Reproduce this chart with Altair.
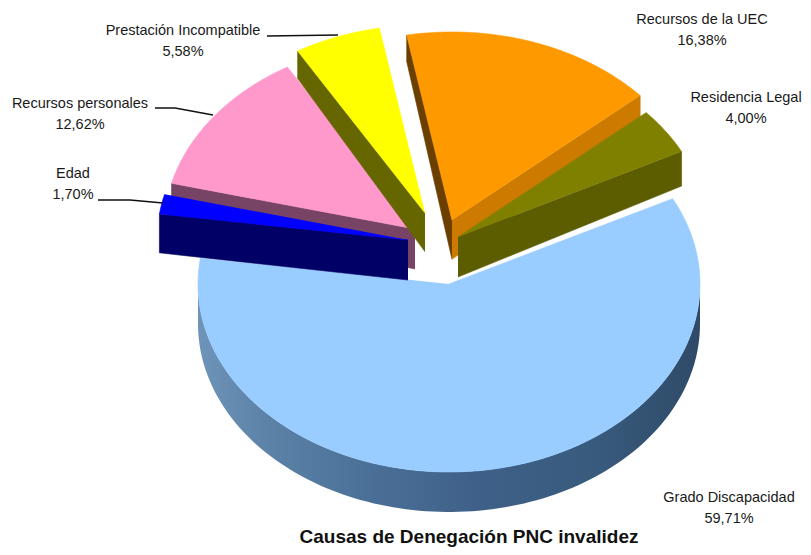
import numpy as np
import pandas as pd
import altair as alt

# Chart values
categories = ["Grado Discapacidad", "Edad", "Recursos personales",
              "Prestación Incompatible", "Recursos de la UEC", "Residencia Legal"]
shares = [59.71, 1.70, 12.62, 5.58, 16.38, 4.00]
share_labels = ["59,71%", "1,70%", "12,62%", "5,58%", "16,38%", "4,00%"]
chart_title = "Causas de Denegación PNC invalidez"

# Appearance
top_colors = ["#99ccff", "#0000ff", "#ff99cc", "#ffff00", "#ff9900", "#808000"]
apex = [(449, 284), (408, 240), (415, 229), (425, 213), (452, 220), (458, 237)]
label_x = [729, 73, 80, 183, 702, 746]
label_y = [498, 174, 104, 31, 20, 98]
RX, RY = 251, 188
START = 27.0


def X(v):
    return alt.X("x:Q", scale=alt.Scale(domain=[8, 803]), axis=None, title=None)


def Y(v):
    return alt.Y("y:Q", scale=alt.Scale(domain=[547, 8]), axis=None, title=None)


def poly(xs, ys, fill, stroke=None, sw=0.6):
    df = pd.DataFrame({"x": xs, "y": ys, "i": range(len(xs))})
    return alt.Chart(df).mark_line(
        fill=fill, stroke=stroke or (fill if isinstance(fill, str) else "#3f6189"),
        strokeWidth=sw, interpolate="linear"
    ).encode(x=X(0), y=Y(0), order="i:Q")


def thick(y):
    return min(40.0, 26 + 0.07 * (y - 30))


# slice boundary angles, clockwise from START
bounds = [START]
for s in shares:
    bounds.append(bounds[-1] - s * 3.6)


def rim(i, a):
    a = np.radians(a)
    return apex[i][0] + RX * np.cos(a), apex[i][1] - RY * np.sin(a)


def top_face(i):
    angs = np.linspace(bounds[i], bounds[i + 1], max(6, int(abs(shares[i]) * 6)))
    pts = [rim(i, a) for a in angs]
    xs = [apex[i][0]] + [p[0] for p in pts]
    ys = [apex[i][1]] + [p[1] for p in pts]
    return poly(xs, ys, top_colors[i])


def radial_wall(i, a, color):
    ex, ey = rim(i, a)
    ax, ay = apex[i]
    return poly([ax, ex, ex, ax],
                [ay, ey, ey + thick(ey), ay + thick(ay)], color)


# Outer wall of the large slice
angs = np.linspace(0, -180, 120)
wx = [rim(0, a)[0] for a in angs]
wy = [rim(0, a)[1] for a in angs]
grad = alt.Gradient(
    gradient="linear", x1=0, x2=1, y1=0, y2=0,
    stops=[alt.GradientStop(offset=0, color="#6f94ba"),
           alt.GradientStop(offset=0.12, color="#5f84aa"),
           alt.GradientStop(offset=0.35, color="#4a6f96"),
           alt.GradientStop(offset=0.55, color="#3f6189"),
           alt.GradientStop(offset=0.8, color="#385a7c"),
           alt.GradientStop(offset=1, color="#2f4a68")],
)
layers = [
    poly(wx + wx[::-1], wy + [v + 40 for v in wy[::-1]], grad, stroke="#4f7399", sw=0),
    top_face(0),
    # Recursos de la UEC
    radial_wall(4, bounds[4], "#6b3f00"),
    radial_wall(4, bounds[5], "#cc7a00"),
    top_face(4),
    # Residencia Legal
    radial_wall(5, bounds[6], "#5c5c00"),
    top_face(5),
    # Recursos personales
    radial_wall(2, bounds[2], "#774466"),
    top_face(2),
    # Prestación Incompatible
    radial_wall(3, bounds[3], "#666600"),
    top_face(3),
    # Edad
    radial_wall(1, bounds[1], "#000066"),
    top_face(1),
]

# Leader lines
leaders = [
    ([267, 338], [36, 35]),
    ([155, 175, 213], [108, 108, 115]),
    ([98, 130, 163], [200, 200, 203]),
]
for lx, ly in leaders:
    ldf = pd.DataFrame({"x": lx, "y": ly, "i": range(len(lx))})
    layers.append(alt.Chart(ldf).mark_line(color="#111111", strokeWidth=1.3).encode(
        x=X(0), y=Y(0), order="i:Q"))

FONT = "Liberation Sans"
labels = pd.DataFrame({
    "x": label_x * 2,
    "y": label_y + [v + 21 for v in label_y],
    "t": categories + share_labels,
})
layers.append(alt.Chart(labels).mark_text(
    font=FONT, fontSize=14.5, color="#1a1a1a", align="center", baseline="middle"
).encode(x=X(0), y=Y(0), text="t:N"))

tdf = pd.DataFrame({"x": [469], "y": [537], "t": [chart_title]})
layers.append(alt.Chart(tdf).mark_text(
    font=FONT, fontSize=19, fontWeight="bold", color="#111111",
    align="center", baseline="middle"
).encode(x=X(0), y=Y(0), text="t:N"))

chart = alt.layer(*layers).properties(
    width=795, height=539, padding=0, autosize="none", background="white"
).configure_view(stroke=None)

chart.save("out.html", embed_options={"renderer": "svg", "actions": False})
